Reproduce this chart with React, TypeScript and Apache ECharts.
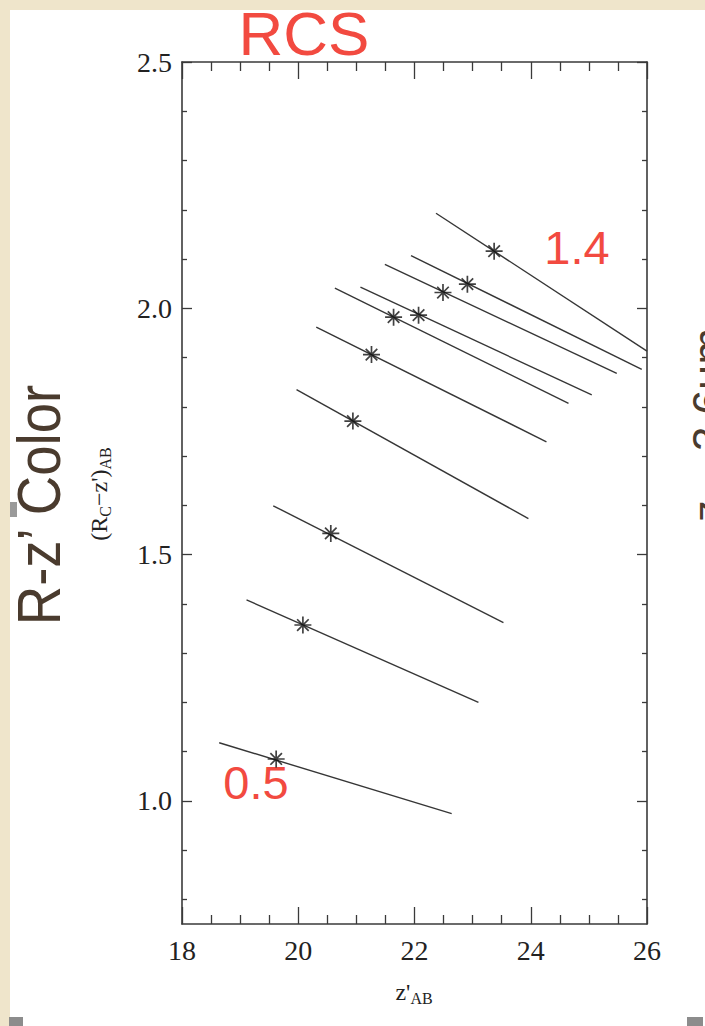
import React, { useEffect, useRef } from "react";
import * as echarts from "echarts";

// Redshift tracks (one per redshift, from 0.5 to 1.4)
const redshiftLabels = ["0.5", "0.6", "0.7", "0.8", "0.9", "1.0", "1.1", "1.2", "1.3", "1.4"];
const trackStartMag = [18.64, 19.11, 19.57, 19.97, 20.31, 20.63, 21.07, 21.49, 21.94, 22.37];
const trackStartColor = [1.118, 1.408, 1.599, 1.835, 1.962, 2.041, 2.043, 2.089, 2.107, 2.193];
const trackEndMag = [22.64, 23.10, 23.53, 23.96, 24.27, 24.65, 25.05, 25.48, 25.91, 26.0];
const trackEndColor = [0.974, 1.200, 1.362, 1.573, 1.729, 1.807, 1.824, 1.868, 1.876, 1.913];
// Asterisk markers (one per redshift)
const starMag = [19.62, 20.08, 20.56, 20.94, 21.26, 21.64, 22.07, 22.49, 22.91, 23.37];
const starColor = [1.085, 1.357, 1.543, 1.771, 1.906, 1.982, 1.986, 2.032, 2.049, 2.116];

// Axis ticks
const xTickValues = [18, 20, 22, 24, 26];
const yMajorTicks = [1.0, 1.5, 2.0, 2.5];
const yMinorTicks = [0.8, 0.9, 1.1, 1.2, 1.3, 1.4, 1.6, 1.7, 1.8, 1.9, 2.1, 2.2, 2.3, 2.4];

const STAR_PATH = "path://M5,0L5,10M0,5L10,5M1.6,1.6L8.4,8.4M8.4,1.6L1.6,8.4";

export default function App() {
  const ref = useRef<HTMLDivElement>(null);

  useEffect(() => {
    if (!ref.current) return;
    const chart = echarts.init(ref.current, null, { renderer: "svg" });
    const serif = "'Liberation Serif', 'Times New Roman', serif";
    const sans = "'Liberation Sans', Arial, Helvetica, sans-serif";
    const axisColor = "#3a3a3a";
    const red = "#f24a40";

    const xBase = {
      type: "value",
      min: xTickValues[0],
      max: xTickValues[xTickValues.length - 1],
      interval: xTickValues[1] - xTickValues[0],
      axisLine: { show: true, onZero: false, lineStyle: { color: axisColor, width: 1.6 } },
      axisTick: { show: true, inside: true, length: 17, lineStyle: { color: axisColor, width: 1.3 } },
      minorTick: { show: true, splitNumber: 4, length: 9, lineStyle: { color: axisColor, width: 1.3 } },
      splitLine: { show: false },
      minorSplitLine: { show: false },
    };
    const yBase = {
      type: "value",
      min: 0.75,
      max: 2.5,
      splitLine: { show: false },
    };
    const majorTick = {
      show: true,
      inside: true,
      length: 10,
      customValues: yMajorTicks,
      lineStyle: { color: axisColor, width: 1.3 },
    };
    const minorTick = {
      show: true,
      inside: true,
      length: 5,
      customValues: yMinorTicks,
      lineStyle: { color: axisColor, width: 1.3 },
    };

    const lineSeries = redshiftLabels.map((z, i) => ({
      type: "line",
      name: "z=" + z,
      xAxisIndex: 0,
      yAxisIndex: 0,
      showSymbol: false,
      symbol: "none",
      silent: true,
      lineStyle: { color: "#363636", width: 1.4 },
      data: [
        [trackStartMag[i], trackStartColor[i]],
        [trackEndMag[i], trackEndColor[i]],
      ],
      z: 3,
    }));

    const option = {
      animation: false,
      backgroundColor: "#ffffff",
      grid: { left: 182, right: 58, top: 62, bottom: 102, containLabel: false },
      xAxis: [
        {
          ...xBase,
          position: "bottom",
          axisLabel: { show: true, color: "#222", fontFamily: serif, fontSize: 28, margin: 12 },
        },
        { ...xBase, position: "top", axisLabel: { show: false } },
      ],
      yAxis: [
        {
          ...yBase,
          position: "left",
          axisLine: { show: true, onZero: false, lineStyle: { color: axisColor, width: 1.6 } },
          axisTick: majorTick,
          axisLabel: {
            show: true,
            customValues: yMajorTicks,
            formatter: (v: number) => v.toFixed(1),
            color: "#222",
            fontFamily: serif,
            fontSize: 28,
            margin: 10,
          },
        },
        { ...yBase, position: "left", axisLine: { show: false }, axisTick: minorTick, axisLabel: { show: false } },
        {
          ...yBase,
          position: "right",
          axisLine: { show: true, onZero: false, lineStyle: { color: axisColor, width: 1.6 } },
          axisTick: majorTick,
          axisLabel: { show: false },
        },
        { ...yBase, position: "right", axisLine: { show: false }, axisTick: minorTick, axisLabel: { show: false } },
      ],
      series: [
        ...lineSeries,
        {
          type: "scatter",
          xAxisIndex: 0,
          yAxisIndex: 0,
          symbol: STAR_PATH,
          symbolSize: 17,
          silent: true,
          itemStyle: { color: "rgba(0,0,0,0)", borderColor: "#111", borderWidth: 1.7 },
          data: starMag.map((m, i) => [m, starColor[i]]),
          z: 4,
        },
      ],
      graphic: [
        // beige slide border
        { type: "rect", left: 0, top: 0, shape: { width: 705, height: 10 }, style: { fill: "#efe5cb" }, silent: true },
        { type: "rect", left: 0, top: 0, shape: { width: 10, height: 1026 }, style: { fill: "#efe5cb" }, silent: true },
        // selection handles
        { type: "rect", left: 10, top: 502, shape: { width: 7, height: 15 }, style: { fill: "#9a9a9a" }, silent: true },
        { type: "rect", left: 9, top: 1017, shape: { width: 14, height: 9 }, style: { fill: "#8c8c8c" }, silent: true },
        { type: "rect", left: 687, top: 1017, shape: { width: 16, height: 9 }, style: { fill: "#8c8c8c" }, silent: true },
        // titles
        {
          type: "text",
          x: 304,
          y: 33,
          style: { text: "RCS", fill: red, font: `62px ${sans}`, align: "center", verticalAlign: "middle" },
          silent: true,
        },
        {
          type: "text",
          x: 577,
          y: 247,
          style: { text: redshiftLabels[redshiftLabels.length - 1], fill: red, font: `47px ${sans}`, align: "center", verticalAlign: "middle" },
          silent: true,
        },
        {
          type: "text",
          x: 256,
          y: 782,
          style: { text: redshiftLabels[0], fill: red, font: `47px ${sans}`, align: "center", verticalAlign: "middle" },
          silent: true,
        },
        {
          type: "text",
          x: 38,
          y: 505,
          rotation: Math.PI / 2,
          scaleX: 0.88,
          style: { text: "R-z\u2019 Color", fill: "#4a3b2e", font: `62px ${sans}`, align: "center", verticalAlign: "middle" },
          silent: true,
        },
        {
          type: "text",
          x: 686,
          y: 522,
          rotation: Math.PI / 2,
          style: { text: "z \u2013 3.6\u03bcm", fill: "#4a3b2e", font: `44px ${sans}`, align: "left", verticalAlign: "top" },
          silent: true,
        },
        // axis names
        {
          type: "text",
          x: 100,
          y: 494,
          rotation: Math.PI / 2,
          style: {
            text: "{m|(R}{s|C}{m|\u2212z')}{s|AB}",
            align: "center",
            verticalAlign: "middle",
            rich: {
              m: { fontFamily: serif, fontSize: 24, lineHeight: 26, verticalAlign: "top", fill: "#222", color: "#222" },
              s: { fontFamily: serif, fontSize: 16, lineHeight: 18, verticalAlign: "bottom", padding: [14, 0, 0, 0], fill: "#222", color: "#222" },
            },
          },
          silent: true,
        },
        {
          type: "text",
          x: 414,
          y: 993,
          style: {
            text: "{m|z'}{s|AB}",
            align: "center",
            verticalAlign: "middle",
            rich: {
              m: { fontFamily: serif, fontSize: 24, lineHeight: 26, verticalAlign: "top", fill: "#222", color: "#222" },
              s: { fontFamily: serif, fontSize: 16, lineHeight: 18, verticalAlign: "bottom", padding: [14, 0, 0, 0], fill: "#222", color: "#222" },
            },
          },
          silent: true,
        },
      ],
    };

    chart.setOption(option as any);
    return () => chart.dispose();
  }, []);

  return (
    <div
      ref={ref}
      style={{ position: "fixed", left: 0, top: 0, width: 705, height: 1026 }}
    />
  );
}
